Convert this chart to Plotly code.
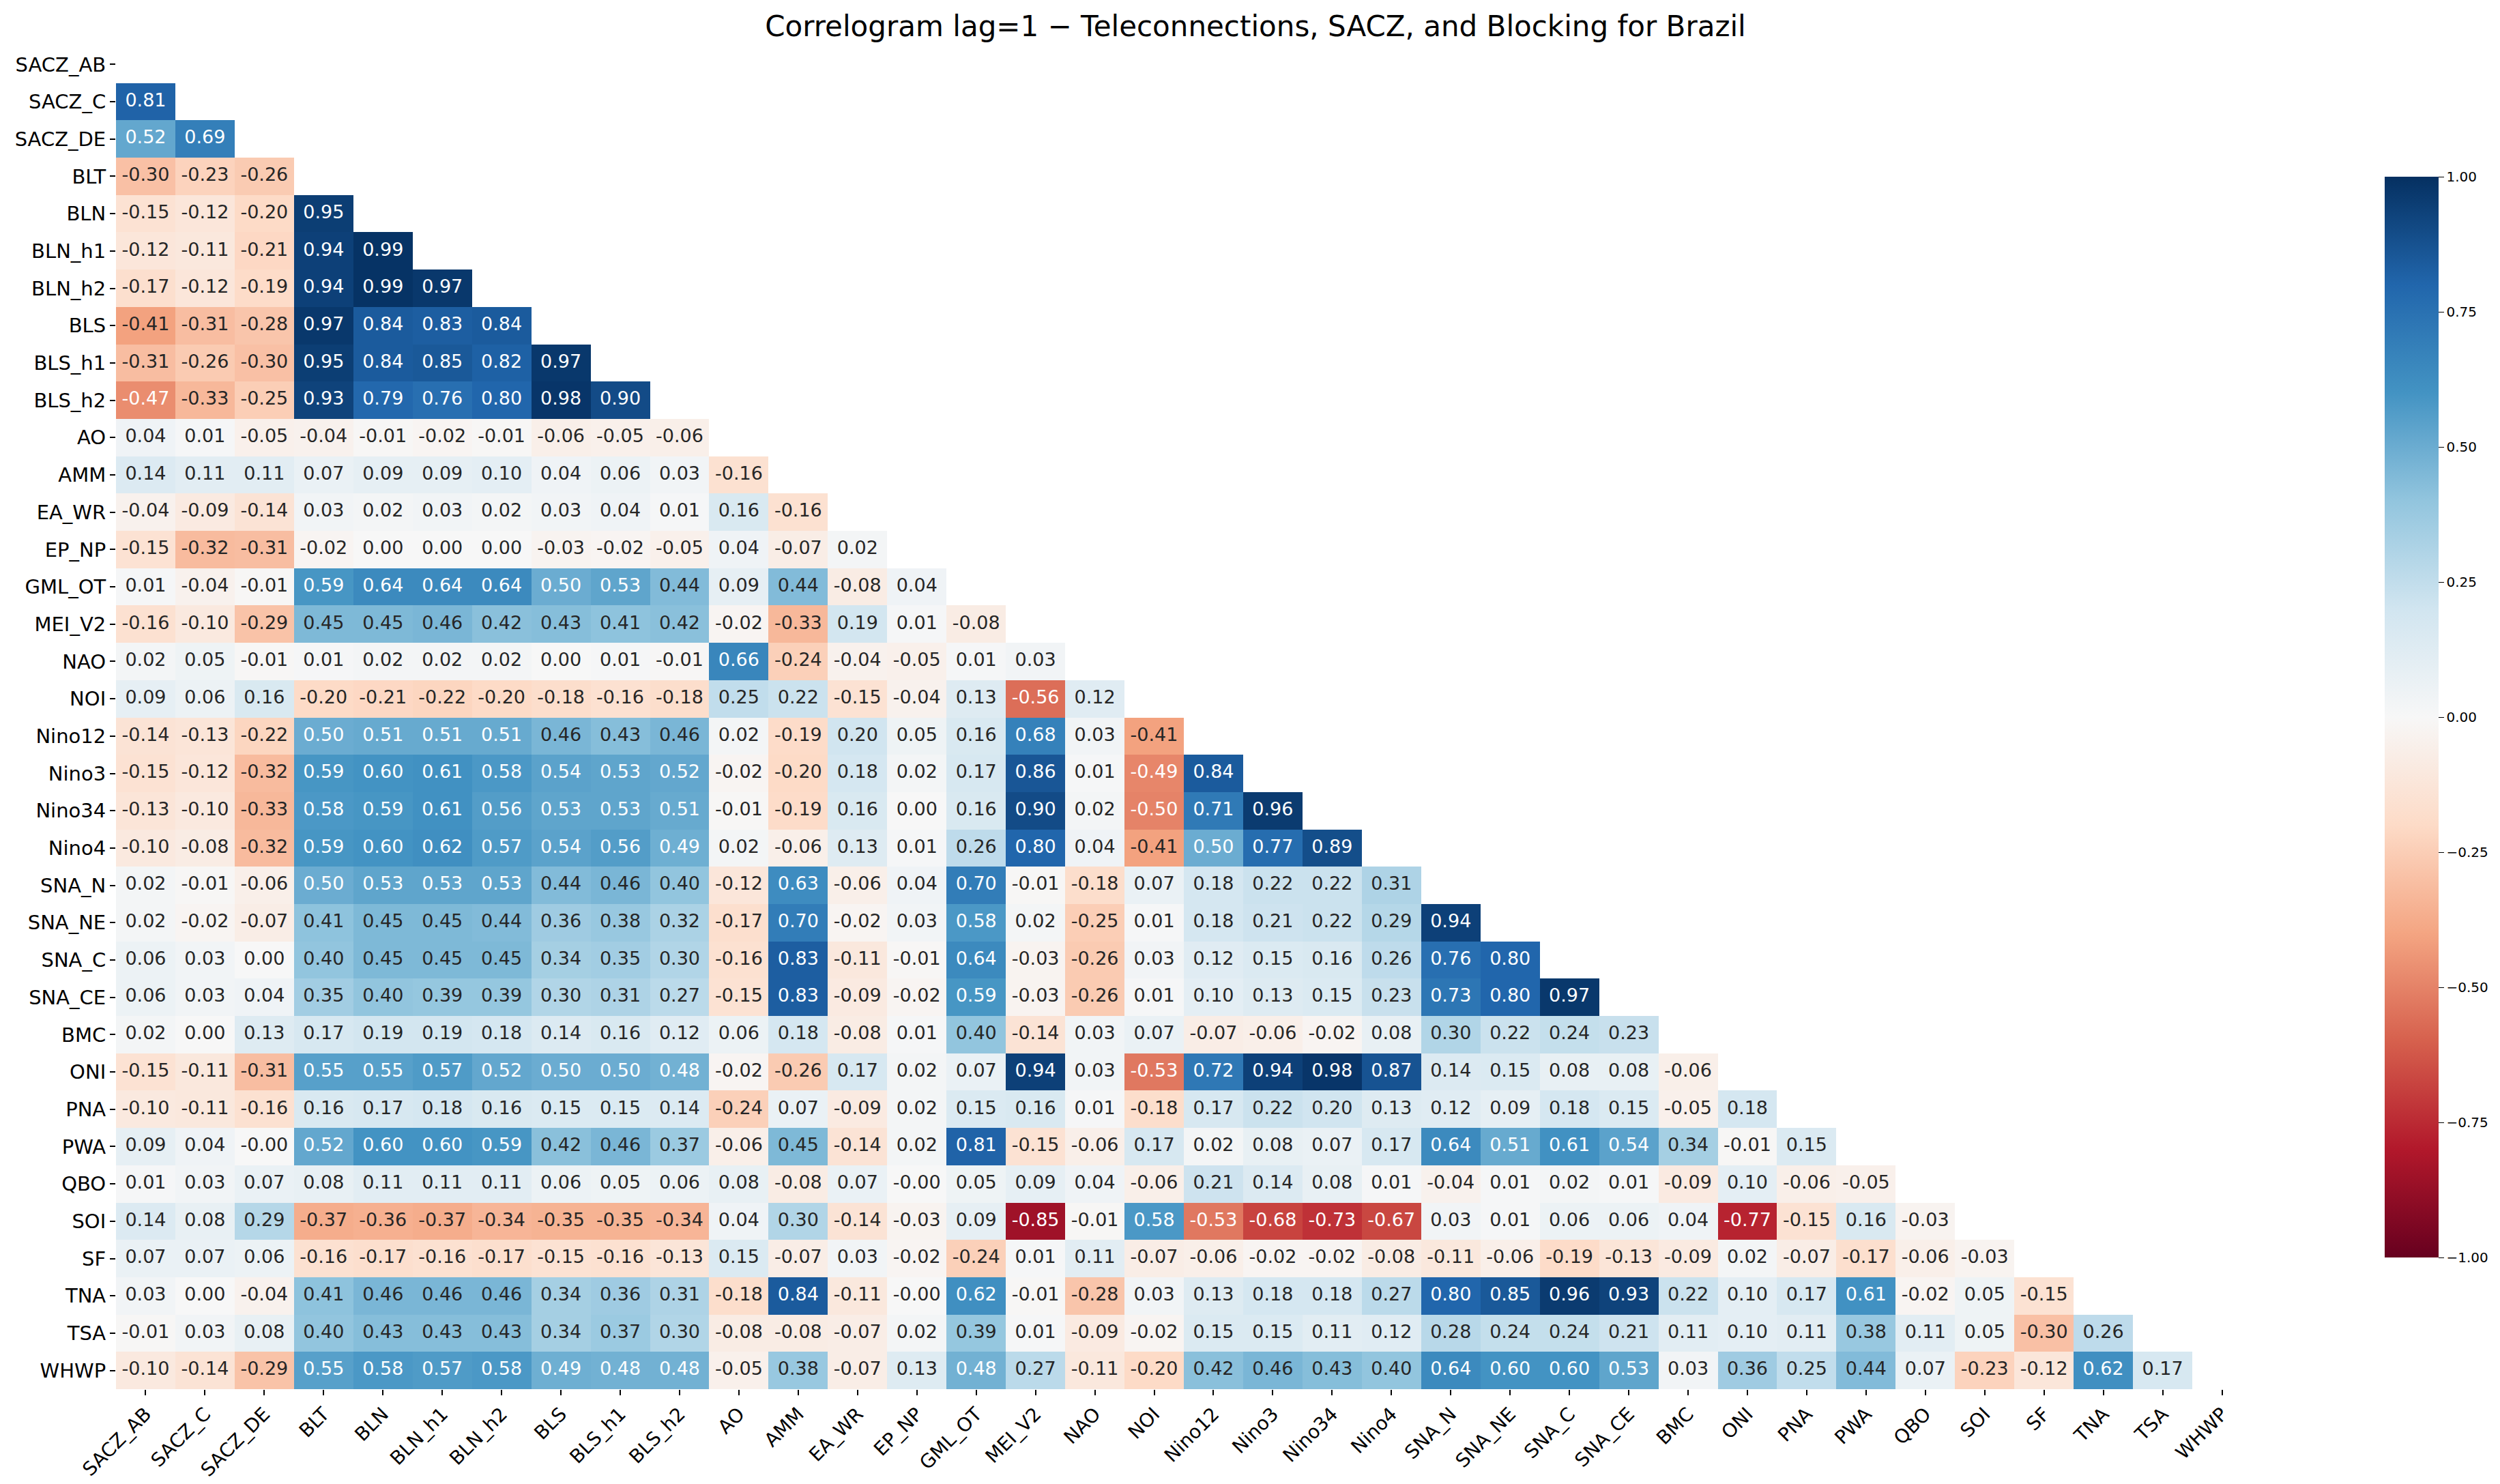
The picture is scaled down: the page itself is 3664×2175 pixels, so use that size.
import plotly.graph_objects as go

names = ["SACZ_AB", "SACZ_C", "SACZ_DE", "BLT", "BLN", "BLN_h1", "BLN_h2", "BLS", "BLS_h1", "BLS_h2",
         "AO", "AMM", "EA_WR", "EP_NP", "GML_OT", "MEI_V2", "NAO", "NOI", "Nino12", "Nino3", "Nino34",
         "Nino4", "SNA_N", "SNA_NE", "SNA_C", "SNA_CE", "BMC", "ONI", "PNA", "PWA", "QBO", "SOI", "SF",
         "TNA", "TSA", "WHWP"]

# lower-triangle correlations, row by row (row i holds the values for columns 0..i-1)
r_SACZ_AB = []
r_SACZ_C = [0.81]
r_SACZ_DE = [0.52, 0.69]
r_BLT = [-0.30, -0.23, -0.26]
r_BLN = [-0.15, -0.12, -0.20, 0.95]
r_BLN_h1 = [-0.12, -0.11, -0.21, 0.94, 0.99]
r_BLN_h2 = [-0.17, -0.12, -0.19, 0.94, 0.99, 0.97]
r_BLS = [-0.41, -0.31, -0.28, 0.97, 0.84, 0.83, 0.84]
r_BLS_h1 = [-0.31, -0.26, -0.30, 0.95, 0.84, 0.85, 0.82, 0.97]
r_BLS_h2 = [-0.47, -0.33, -0.25, 0.93, 0.79, 0.76, 0.80, 0.98, 0.90]
r_AO = [0.04, 0.01, -0.05, -0.04, -0.01, -0.02, -0.01, -0.06, -0.05, -0.06]
r_AMM = [0.14, 0.11, 0.11, 0.07, 0.09, 0.09, 0.10, 0.04, 0.06, 0.03, -0.16]
r_EA_WR = [-0.04, -0.09, -0.14, 0.03, 0.02, 0.03, 0.02, 0.03, 0.04, 0.01, 0.16, -0.16]
r_EP_NP = [-0.15, -0.32, -0.31, -0.02, 0.00, 0.00, 0.00, -0.03, -0.02, -0.05, 0.04, -0.07, 0.02]
r_GML_OT = [0.01, -0.04, -0.01, 0.59, 0.64, 0.64, 0.64, 0.50, 0.53, 0.44, 0.09, 0.44, -0.08, 0.04]
r_MEI_V2 = [-0.16, -0.10, -0.29, 0.45, 0.45, 0.46, 0.42, 0.43, 0.41, 0.42, -0.02, -0.33, 0.19, 0.01, -0.08]
r_NAO = [0.02, 0.05, -0.01, 0.01, 0.02, 0.02, 0.02, 0.00, 0.01, -0.01, 0.66, -0.24, -0.04, -0.05, 0.01, 0.03]
r_NOI = [0.09, 0.06, 0.16, -0.20, -0.21, -0.22, -0.20, -0.18, -0.16, -0.18, 0.25, 0.22, -0.15, -0.04, 0.13,
         -0.56, 0.12]
r_Nino12 = [-0.14, -0.13, -0.22, 0.50, 0.51, 0.51, 0.51, 0.46, 0.43, 0.46, 0.02, -0.19, 0.20, 0.05, 0.16,
            0.68, 0.03, -0.41]
r_Nino3 = [-0.15, -0.12, -0.32, 0.59, 0.60, 0.61, 0.58, 0.54, 0.53, 0.52, -0.02, -0.20, 0.18, 0.02, 0.17,
           0.86, 0.01, -0.49, 0.84]
r_Nino34 = [-0.13, -0.10, -0.33, 0.58, 0.59, 0.61, 0.56, 0.53, 0.53, 0.51, -0.01, -0.19, 0.16, 0.00, 0.16,
            0.90, 0.02, -0.50, 0.71, 0.96]
r_Nino4 = [-0.10, -0.08, -0.32, 0.59, 0.60, 0.62, 0.57, 0.54, 0.56, 0.49, 0.02, -0.06, 0.13, 0.01, 0.26,
           0.80, 0.04, -0.41, 0.50, 0.77, 0.89]
r_SNA_N = [0.02, -0.01, -0.06, 0.50, 0.53, 0.53, 0.53, 0.44, 0.46, 0.40, -0.12, 0.63, -0.06, 0.04, 0.70,
           -0.01, -0.18, 0.07, 0.18, 0.22, 0.22, 0.31]
r_SNA_NE = [0.02, -0.02, -0.07, 0.41, 0.45, 0.45, 0.44, 0.36, 0.38, 0.32, -0.17, 0.70, -0.02, 0.03, 0.58,
            0.02, -0.25, 0.01, 0.18, 0.21, 0.22, 0.29, 0.94]
r_SNA_C = [0.06, 0.03, 0.00, 0.40, 0.45, 0.45, 0.45, 0.34, 0.35, 0.30, -0.16, 0.83, -0.11, -0.01, 0.64,
           -0.03, -0.26, 0.03, 0.12, 0.15, 0.16, 0.26, 0.76, 0.80]
r_SNA_CE = [0.06, 0.03, 0.04, 0.35, 0.40, 0.39, 0.39, 0.30, 0.31, 0.27, -0.15, 0.83, -0.09, -0.02, 0.59,
            -0.03, -0.26, 0.01, 0.10, 0.13, 0.15, 0.23, 0.73, 0.80, 0.97]
r_BMC = [0.02, 0.00, 0.13, 0.17, 0.19, 0.19, 0.18, 0.14, 0.16, 0.12, 0.06, 0.18, -0.08, 0.01, 0.40, -0.14,
         0.03, 0.07, -0.07, -0.06, -0.02, 0.08, 0.30, 0.22, 0.24, 0.23]
r_ONI = [-0.15, -0.11, -0.31, 0.55, 0.55, 0.57, 0.52, 0.50, 0.50, 0.48, -0.02, -0.26, 0.17, 0.02, 0.07,
         0.94, 0.03, -0.53, 0.72, 0.94, 0.98, 0.87, 0.14, 0.15, 0.08, 0.08, -0.06]
r_PNA = [-0.10, -0.11, -0.16, 0.16, 0.17, 0.18, 0.16, 0.15, 0.15, 0.14, -0.24, 0.07, -0.09, 0.02, 0.15,
         0.16, 0.01, -0.18, 0.17, 0.22, 0.20, 0.13, 0.12, 0.09, 0.18, 0.15, -0.05, 0.18]
r_PWA = [0.09, 0.04, -0.00, 0.52, 0.60, 0.60, 0.59, 0.42, 0.46, 0.37, -0.06, 0.45, -0.14, 0.02, 0.81,
         -0.15, -0.06, 0.17, 0.02, 0.08, 0.07, 0.17, 0.64, 0.51, 0.61, 0.54, 0.34, -0.01, 0.15]
r_QBO = [0.01, 0.03, 0.07, 0.08, 0.11, 0.11, 0.11, 0.06, 0.05, 0.06, 0.08, -0.08, 0.07, -0.00, 0.05, 0.09,
         0.04, -0.06, 0.21, 0.14, 0.08, 0.01, -0.04, 0.01, 0.02, 0.01, -0.09, 0.10, -0.06, -0.05]
r_SOI = [0.14, 0.08, 0.29, -0.37, -0.36, -0.37, -0.34, -0.35, -0.35, -0.34, 0.04, 0.30, -0.14, -0.03, 0.09,
         -0.85, -0.01, 0.58, -0.53, -0.68, -0.73, -0.67, 0.03, 0.01, 0.06, 0.06, 0.04, -0.77, -0.15, 0.16,
         -0.03]
r_SF = [0.07, 0.07, 0.06, -0.16, -0.17, -0.16, -0.17, -0.15, -0.16, -0.13, 0.15, -0.07, 0.03, -0.02, -0.24,
        0.01, 0.11, -0.07, -0.06, -0.02, -0.02, -0.08, -0.11, -0.06, -0.19, -0.13, -0.09, 0.02, -0.07, -0.17,
        -0.06, -0.03]
r_TNA = [0.03, 0.00, -0.04, 0.41, 0.46, 0.46, 0.46, 0.34, 0.36, 0.31, -0.18, 0.84, -0.11, -0.00, 0.62,
         -0.01, -0.28, 0.03, 0.13, 0.18, 0.18, 0.27, 0.80, 0.85, 0.96, 0.93, 0.22, 0.10, 0.17, 0.61, -0.02,
         0.05, -0.15]
r_TSA = [-0.01, 0.03, 0.08, 0.40, 0.43, 0.43, 0.43, 0.34, 0.37, 0.30, -0.08, -0.08, -0.07, 0.02, 0.39,
         0.01, -0.09, -0.02, 0.15, 0.15, 0.11, 0.12, 0.28, 0.24, 0.24, 0.21, 0.11, 0.10, 0.11, 0.38, 0.11,
         0.05, -0.30, 0.26]
r_WHWP = [-0.10, -0.14, -0.29, 0.55, 0.58, 0.57, 0.58, 0.49, 0.48, 0.48, -0.05, 0.38, -0.07, 0.13, 0.48,
          0.27, -0.11, -0.20, 0.42, 0.46, 0.43, 0.40, 0.64, 0.60, 0.60, 0.53, 0.03, 0.36, 0.25, 0.44, 0.07,
          -0.23, -0.12, 0.62, 0.17]

rows = [r_SACZ_AB, r_SACZ_C, r_SACZ_DE, r_BLT, r_BLN, r_BLN_h1, r_BLN_h2, r_BLS, r_BLS_h1, r_BLS_h2,
        r_AO, r_AMM, r_EA_WR, r_EP_NP, r_GML_OT, r_MEI_V2, r_NAO, r_NOI, r_Nino12, r_Nino3, r_Nino34,
        r_Nino4, r_SNA_N, r_SNA_NE, r_SNA_C, r_SNA_CE, r_BMC, r_ONI, r_PNA, r_PWA, r_QBO, r_SOI, r_SF,
        r_TNA, r_TSA, r_WHWP]

cbar_ticks = [-1.0, -0.75, -0.5, -0.25, 0.0, 0.25, 0.5, 0.75, 1.0]

# matplotlib RdBu (ColorBrewer) anchors
rdbu = [(103, 0, 31), (178, 24, 43), (214, 96, 77), (244, 165, 130), (253, 219, 199), (247, 247, 247),
        (209, 229, 240), (146, 197, 222), (67, 147, 195), (33, 102, 172), (5, 48, 97)]
n_anchor = len(rdbu)
colorscale = [[k / (n_anchor - 1), "rgb(%d,%d,%d)" % c] for k, c in enumerate(rdbu)]


def cmap(v):
    t = (v + 1.0) / 2.0
    t = min(max(t, 0.0), 1.0)
    idx = min(int(t * 256), 255) / 255.0
    pos = idx * (n_anchor - 1)
    k = min(int(pos), n_anchor - 2)
    f = pos - k
    a, b = rdbu[k], rdbu[k + 1]
    return [(a[i] + (b[i] - a[i]) * f) / 255.0 for i in range(3)]


def luminance(rgb):
    lin = [c / 12.92 if c <= 0.03928 else ((c + 0.055) / 1.055) ** 2.4 for c in rgb]
    return 0.2126 * lin[0] + 0.7152 * lin[1] + 0.0722 * lin[2]


def tick_label(t):
    s = f"{t:.2f}"
    return s.replace("-", "\u2212")


n = len(names)
z = [[None] * n for _ in range(n)]
tx, ty, tt, tc = [], [], [], []
for i, row in enumerate(rows):
    for j, v in enumerate(row):
        z[i][j] = v
        tx.append(names[j])
        ty.append(names[i])
        tt.append(f"{v:.2f}")
        tc.append("#262626" if luminance(cmap(v)) > 0.408 else "#ffffff")

# plot-area geometry (pixels)
W, H = 3664, 2175
L, R, T, B = 162, 372, 59, 137
plot_h = H - T - B
cb_top, cb_bot = 256, 1840

fig = go.Figure()
fig.add_trace(go.Heatmap(
    z=z, x=names, y=names, zmin=-1, zmax=1, colorscale=colorscale,
    hoverongaps=False,
    colorbar=dict(
        thickness=79, thicknessmode="pixels", len=cb_bot - cb_top, lenmode="pixels",
        xref="paper", yref="paper", x=(3487 - L) / (W - L - R), xanchor="left", xpad=0, ypad=0,
        y=((H - B) - (cb_top + cb_bot) / 2) / plot_h, yanchor="middle", outlinewidth=0,
        tickvals=cbar_ticks, ticktext=[tick_label(t) for t in cbar_ticks],
        ticks="outside", ticklen=8, tickwidth=1.2, tickcolor="#000000",
        tickfont=dict(family="DejaVu Sans", size=20, color="#000000"),
    ),
))
fig.add_trace(go.Scatter(
    x=tx, y=ty, mode="text", text=tt, hoverinfo="skip", showlegend=False,
    textfont=dict(family="DejaVu Sans", size=27, color=tc),
))

fig.update_layout(
    width=W, height=H,
    margin=dict(l=L, r=R, t=T, b=B),
    paper_bgcolor="white", plot_bgcolor="white",
    title=dict(text="Correlogram lag=1 − Teleconnections, SACZ, and Blocking for Brazil",
               x=0.5, xanchor="center", y=1 - 30 / H, yanchor="middle",
               xref="container", yref="container",
               font=dict(family="DejaVu Sans", size=42, color="#000000")),
    font=dict(family="DejaVu Sans", color="#000000"),
    showlegend=False,
)
fig.update_xaxes(type="category", tickangle=-45, ticks="outside", ticklen=8, tickwidth=1.5,
                 tickcolor="#000000", tickfont=dict(size=28, color="#000000"),
                 showgrid=False, zeroline=False, showline=False, range=[-0.5, n - 0.5])
fig.update_yaxes(type="category", autorange=False, range=[n - 0.5, -0.5], ticks="outside", ticklen=8,
                 tickwidth=1.5, tickcolor="#000000", tickfont=dict(size=29, color="#000000"),
                 showgrid=False, zeroline=False, showline=False)

fig.write_html("out.html")
